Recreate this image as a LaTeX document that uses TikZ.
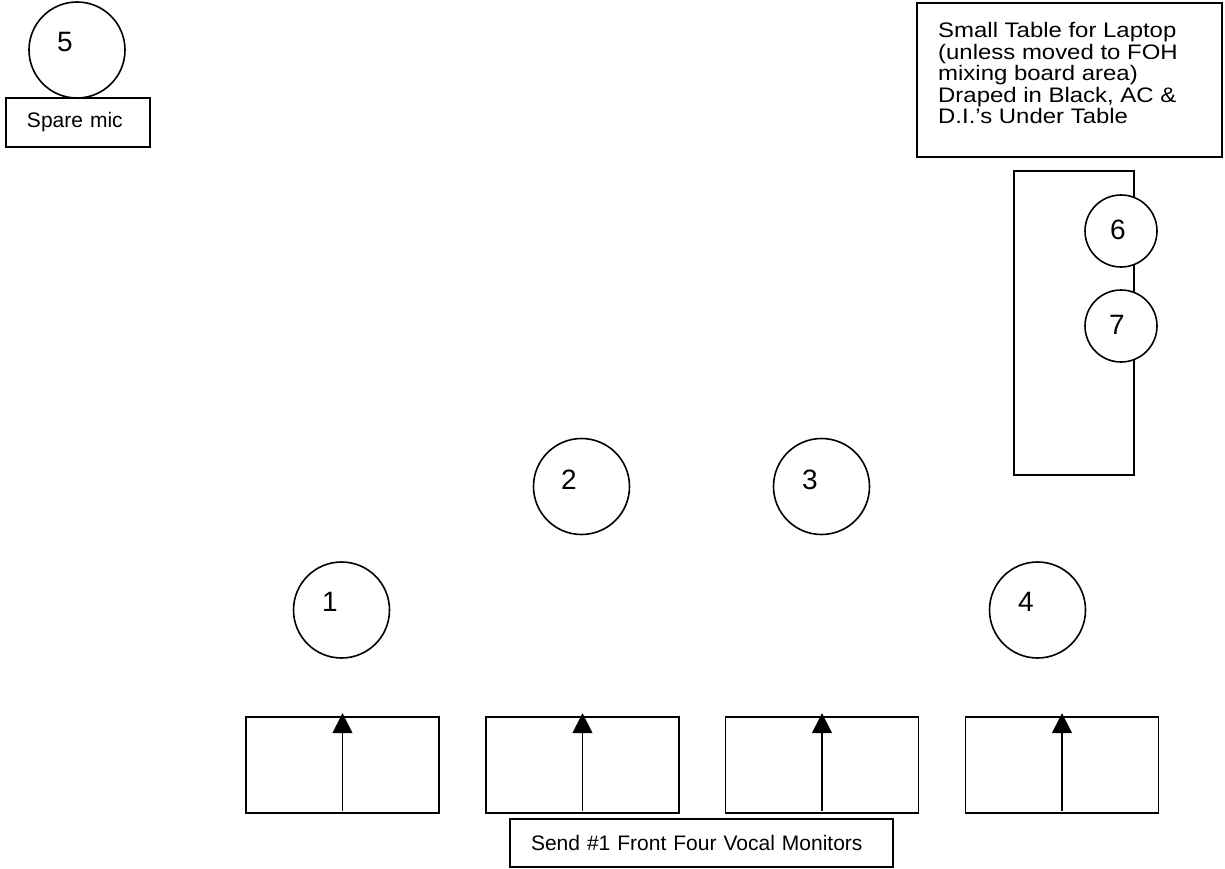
\documentclass[tikz,border=0pt]{standalone}
\usepackage{fontspec}
\setmainfont{Liberation Sans}
\newfontfamily\widefont[FakeStretch=1.14]{Liberation Sans}
\usetikzlibrary{arrows.meta}
\begin{document}
\begin{tikzpicture}[x=1pt,y=-1pt,
  lw/.style={line width=1.6pt},
  mic/.style={circle, draw, lw, fill=white, minimum size=96pt, inner sep=0pt},
  smallmic/.style={mic, minimum size=72pt},
  num/.style={inner sep=0pt, font=\fontsize{28}{28}\selectfont},
  txt/.style={font=\fontsize{21}{21.5}\selectfont},
  widetxt/.style={font=\widefont\fontsize{21}{21.6}\selectfont},
  box/.style={draw, lw, rectangle, inner sep=0pt},
  mon/.style={box, minimum width=193pt, minimum height=96pt},
  arr/.style={lw, -{Triangle[width=20pt,length=20pt]}}
]
\useasboundingbox (0,0) rectangle (1225,869);

% spare mic
\node[mic] (m5) at (77,50) {};
\node[num] (n5) at (65,42.5) {5};
\node[box, txt, minimum width=144pt, minimum height=49pt, text width=102pt, align=left, inner xsep=21pt] (spare) at (78,122.5) {Spare mic};

% laptop table note
\node[box, minimum width=305pt, minimum height=154pt] (note) at (1069.5,80) {};
\node[widetxt, anchor=north west, align=left, inner sep=0pt] (notetext) at (938,22) {Small Table for Laptop\\(unless moved to FOH\\mixing board area)\\Draped in Black, AC \&\\D.I.’s Under Table};

% table with 6 and 7
\node[box, minimum width=120pt, minimum height=304pt] (table) at (1074,323) {};
\node[smallmic] (m6) at (1121,231) {};
\node[num] (n6) at (1118,230) {6};
\node[smallmic] (m7) at (1121,326) {};
\node[num] (n7) at (1117,325) {7};

% vocal mics
\node[mic] (m1) at (341.5,610) {};
\node[num] (n1) at (330,602) {1};
\node[mic] (m2) at (581.5,486.5) {};
\node[num] (n2) at (569,480) {2};
\node[mic] (m3) at (821.5,486.5) {};
\node[num] (n3) at (810,480) {3};
\node[mic] (m4) at (1037.5,610) {};
\node[num] (n4) at (1026,602) {4};

% monitors
\node[mon] (w1) at (342.5,765) {};
\node[mon] (w2) at (582.5,765) {};
\node[mon] (w3) at (822,765) {};
\node[mon] (w4) at (1062,765) {};
\foreach \w in {w1,w2,w3,w4}{
  \draw[arr] ([yshift=3pt]\w.south) -- ([yshift=3pt]\w.north);
}

% label
\node[box, txt, minimum width=383pt, minimum height=48pt, text width=341pt, align=left, inner xsep=21pt] (send) at (701.5,843) {Send \#1 Front Four Vocal Monitors};
\end{tikzpicture}
\end{document}
